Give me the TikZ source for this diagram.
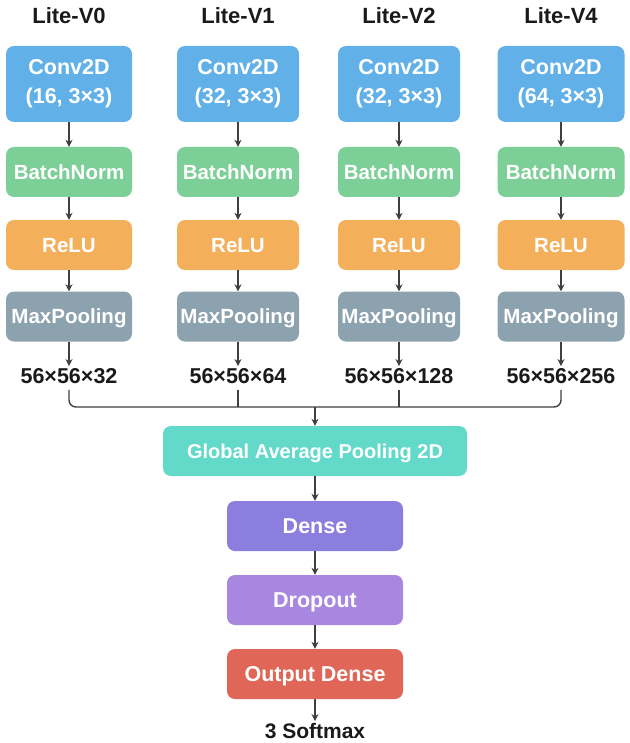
\documentclass[tikz,border=0pt]{standalone}
\usepackage{fontspec}
\setmainfont{Liberation Sans}
\usetikzlibrary{arrows.meta}
\definecolor{convc}{HTML}{62B0E8}
\definecolor{bnc}{HTML}{7DCF98}
\definecolor{reluc}{HTML}{F4AF5B}
\definecolor{poolc}{HTML}{8CA3AF}
\definecolor{gapc}{HTML}{62D9C9}
\definecolor{densec}{HTML}{8C7EDF}
\definecolor{dropc}{HTML}{A887E0}
\definecolor{outc}{HTML}{E06658}
\definecolor{arrc}{HTML}{3F3F3F}
\definecolor{txtc}{HTML}{1A1A1A}
\tikzset{
  blk/.style={rounded corners=8pt, draw=none, text=white, inner sep=0pt,
    font=\fontsize{20.5}{24}\selectfont\bfseries, minimum height=50pt,
    text height=14.5pt, text depth=0pt},
  lowblk/.style={blk, font=\fontsize{21.5}{25}\selectfont\bfseries, minimum width=176pt, text height=15.5pt},
  ttl/.style={text=txtc, inner sep=0pt, font=\fontsize{22}{26}\selectfont\bfseries, text height=16pt, text depth=0pt},
  lbl/.style={text=txtc, inner sep=0pt, font=\fontsize{21.5}{25}\selectfont\bfseries, text height=15.5pt, text depth=0pt},
  arr/.style={draw=arrc, line width=1.4pt, -{Stealth[length=7pt,width=7pt]}},
  lin/.style={draw=arrc, line width=1.4pt},
}
\begin{document}
\begin{tikzpicture}[x=1pt,y=-1pt]
\useasboundingbox (0,0) rectangle (629,743);
\foreach \i/\cx/\w/\t/\f/\o in {0/69/126/V0/16/32,1/238/122/V1/32/64,2/399/122/V2/32/128,3/561/127/V4/64/256}{
  \node[ttl] (t\i) at (\cx,16) {Lite-\t};
  \node[blk, fill=convc, minimum width=\w pt, minimum height=76pt, align=center,
        font=\fontsize{21.5}{29}\selectfont\bfseries, text height=, text depth=] (c\i) at (\cx,84) {Conv2D\\(\f, 3×3)};
  \node[blk, fill=bnc, minimum width=\w pt] (b\i) at (\cx,172) {BatchNorm};
  \node[blk, fill=reluc, minimum width=\w pt] (r\i) at (\cx,245) {ReLU};
  \node[blk, fill=poolc, minimum width=\w pt] (m\i) at (\cx,316.5) {MaxPooling};
  \node[lbl] (l\i) at (\cx,376) {56×56×\o};
  \coordinate (k\i) at (\cx,407);
  \draw[arr] (c\i) -- (b\i);
  \draw[arr] (b\i) -- (r\i);
  \draw[arr] (r\i) -- (m\i);
  \draw[arr, shorten >=2pt] (m\i.south) -- (m\i.south |- l\i.north);
}
\coordinate (jn) at (315,407);
\draw[lin, rounded corners=7pt] ([yshift=-6pt]k0 |- l0.south) -- (k0) -- (k3) -- ([yshift=-6pt]k3 |- l3.south);
\draw[lin] ([yshift=-6pt]k1 |- l1.south) -- (k1);
\draw[lin] ([yshift=-6pt]k2 |- l2.south) -- (k2);
\node[blk, fill=gapc, minimum width=304pt, font=\fontsize{20}{24}\selectfont\bfseries] (gap) at (315,451) {Global Average Pooling 2D};
\node[lowblk, fill=densec] (dense) at (315,526) {Dense};
\node[lowblk, fill=dropc] (drop) at (315,600) {Dropout};
\node[lowblk, fill=outc] (out) at (315,674) {Output Dense};
\node[lbl, font=\fontsize{21}{25}\selectfont\bfseries] (soft) at (315,731) {3 Softmax};
\draw[arr] (jn) -- (gap.north);
\draw[arr] (gap) -- (dense);
\draw[arr] (dense) -- (drop);
\draw[arr] (drop) -- (out);
\draw[arr, shorten >=2pt] (out) -- (soft);
\end{tikzpicture}
\end{document}
